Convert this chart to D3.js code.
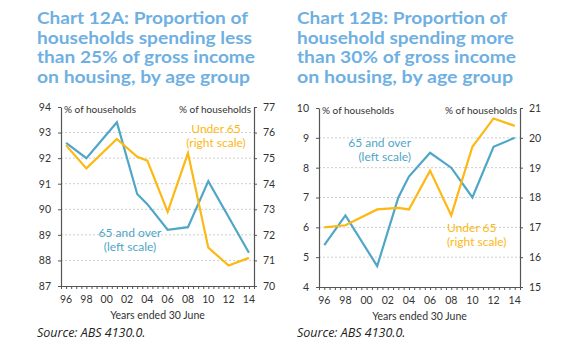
<!DOCTYPE html>
<html>
<head>
<meta charset="utf-8">
<script src="https://cdn.jsdelivr.net/npm/d3@7"></script>
<style>
  body { margin: 0; background: #fff; }
  svg { display: block; }
  text { font-family: "Lato", "Open Sans", sans-serif; }
</style>
</head>
<body>
<div id="chart"></div>
<script>
// Survey years (years ended 30 June)
const years = [1996, 1998, 2001, 2003, 2004, 2006, 2008, 2010, 2012, 2014]
const yearLabels = ["96", "98", "00", "02", "04", "06", "08", "10", "12", "14"]
const yearLabelValues = [1996, 1998, 2000, 2002, 2004, 2006, 2008, 2010, 2012, 2014]

// Chart 12A: less than 25% of gross income
const over65A = [92.6, 92.0, 93.4, 90.6, 90.2, 89.2, 89.3, 91.1, 89.7, 88.3]
const under65A = [75.5, 74.6, 75.75, 75.05, 74.9, 72.9, 75.2, 71.5, 70.8, 71.1]
const leftTicksA = [87, 88, 89, 90, 91, 92, 93, 94]
const rightTicksA = [70, 71, 72, 73, 74, 75, 76, 77]

// Chart 12B: more than 30% of gross income
const over65B = [5.4, 6.4, 4.7, 7.0, 7.7, 8.5, 8.0, 7.0, 8.7, 9.0]
const under65B = [17.0, 17.07, 17.6, 17.65, 17.6, 18.9, 17.4, 19.7, 20.65, 20.4]
const leftTicksB = [4, 5, 6, 7, 8, 9, 10]
const rightTicksB = [15, 16, 17, 18, 19, 20, 21]

const titleA = ["Chart 12A: Proportion of", "households spending less", "than 25% of gross income", "on housing, by age group"]
const titleB = ["Chart 12B: Proportion of", "household spending more", "than 30% of gross income", "on housing, by age group"]

const BLUE = "#4fa6c8"
const GOLD = "#fdb813"
const TITLE = "#6fb0e2"
const AXIS = "#555"

const svg = d3.select("#chart").append("svg")
    .attr("width", 582)
    .attr("height", 350)

function drawPanel(p) {
    const g = svg.append("g")

    // Title lines, stretched to the widths in the original
    p.title.forEach((line, i) => {
        g.append("text")
            .attr("x", p.titleX)
            .attr("y", 24 + i * 19.5)
            .attr("font-size", 17)
            .attr("font-weight", 700)
            .attr("fill", TITLE)
            .attr("textLength", p.titleWidths[i])
            .attr("lengthAdjust", "spacingAndGlyphs")
            .text(line)
    })

    const x = d3.scaleLinear().domain([1995.5, 2014.5]).range([p.left, p.right])
    const yL = d3.scaleLinear().domain(d3.extent(p.leftTicks)).range([p.bottom, p.top])
    const yR = d3.scaleLinear().domain(d3.extent(p.rightTicks)).range([p.bottom, p.top])

    // Dashed gridlines
    g.selectAll(".grid")
        .data(p.leftTicks.slice(1, -1))
        .enter().append("line")
        .attr("x1", p.left).attr("x2", p.right)
        .attr("y1", d => yL(d)).attr("y2", d => yL(d))
        .attr("stroke", "#cfcfcf")
        .attr("stroke-dasharray", "2,2")

    // Left axis
    const la = g.append("g")
        .attr("transform", `translate(${p.left},0)`)
        .call(d3.axisLeft(yL).tickValues(p.leftTicks).tickFormat(d3.format("d"))
            .tickSize(3).tickSizeOuter(0).tickPadding(7))
    // Right axis
    const ra = g.append("g")
        .attr("transform", `translate(${p.right},0)`)
        .call(d3.axisRight(yR).tickValues(p.rightTicks).tickFormat(d3.format("d"))
            .tickSize(3).tickSizeOuter(0).tickPadding(6))
    // Bottom axis: small ticks every half year
    const ba = g.append("g")
        .attr("transform", `translate(0,${p.bottom})`)
        .call(d3.axisBottom(x).tickValues(d3.range(1995.5, 2014.51, 0.5)).tickSize(3).tickSizeOuter(0).tickFormat(""))
    g.selectAll(".xlab")
        .data(yearLabelValues)
        .enter().append("text")
        .attr("x", d => x(d))
        .attr("y", p.bottom + 17)
        .attr("text-anchor", "middle")
        .attr("font-size", 10.5)
        .attr("fill", "#333")
        .text((d, i) => yearLabels[i])

    ;[la, ra, ba].forEach(a => {
        a.select(".domain").attr("stroke", AXIS).attr("stroke-width", 1.2)
        a.selectAll(".tick line").attr("stroke", AXIS)
        a.selectAll(".tick text").attr("font-size", 10.5).attr("fill", "#333")
            .style("font-family", "Lato, 'Open Sans', sans-serif")
    })

    // Unit labels
    g.append("text").attr("x", p.left + 3).attr("y", p.top + 6)
        .attr("font-size", 10).attr("fill", "#333").text("% of households")
    g.append("text").attr("x", p.right - 3).attr("y", p.top + 6)
        .attr("text-anchor", "end")
        .attr("font-size", 10).attr("fill", "#333").text("% of households")

    // Axis title
    g.append("text")
        .attr("x", (p.left + p.right) / 2)
        .attr("y", p.bottom + 33)
        .attr("text-anchor", "middle")
        .attr("font-size", 10.5).attr("fill", "#333")
        .text("Years ended 30 June")

    // Source
    g.append("text")
        .attr("x", p.titleX)
        .attr("y", 337)
        .attr("font-size", 12.5)
        .attr("font-style", "italic")
        .style("font-family", "'Open Sans', sans-serif")
        .attr("fill", "#222")
        .text("Source: ABS 4130.0.")

    // Lines
    const lineL = d3.line().x((d, i) => x(years[i])).y(d => yL(d))
    const lineR = d3.line().x((d, i) => x(years[i])).y(d => yR(d))
    g.append("path").datum(p.over65)
        .attr("d", lineL).attr("fill", "none")
        .attr("stroke", BLUE).attr("stroke-width", 2.2).attr("stroke-linejoin", "miter")
    g.append("path").datum(p.under65)
        .attr("d", lineR).attr("fill", "none")
        .attr("stroke", GOLD).attr("stroke-width", 2.2).attr("stroke-linejoin", "miter")

    // Series annotations
    p.notes.forEach(n => {
        n.lines.forEach((t, i) => {
            g.append("text")
                .attr("x", n.x).attr("y", n.y + i * 13.5)
                .attr("text-anchor", n.anchor)
                .attr("font-size", 12)
                .attr("fill", n.color)
                .text(t)
        })
    })
}

drawPanel({
    title: titleA, titleX: 37, titleWidths: [211, 215, 218, 213],
    left: 61, right: 254, top: 107, bottom: 286,
    leftTicks: leftTicksA, rightTicks: rightTicksA,
    over65: over65A, under65: under65A,
    notes: [
        {lines: ["Under 65", "(right scale)"], x: 216, y: 133, anchor: "middle", color: GOLD},
        {lines: ["65 and over", "(left scale)"], x: 130, y: 237, anchor: "middle", color: BLUE}
    ]
})

drawPanel({
    title: titleB, titleX: 297, titleWidths: [210, 217, 219, 216],
    left: 319, right: 520, top: 108, bottom: 287,
    leftTicks: leftTicksB, rightTicks: rightTicksB,
    over65: over65B, under65: under65B,
    notes: [
        {lines: ["65 and over", "(left scale)"], x: 411, y: 147, anchor: "end", color: BLUE},
        {lines: ["Under 65", "(right scale)"], x: 447, y: 232, anchor: "start", color: GOLD}
    ]
})
</script>
</body>
</html>
